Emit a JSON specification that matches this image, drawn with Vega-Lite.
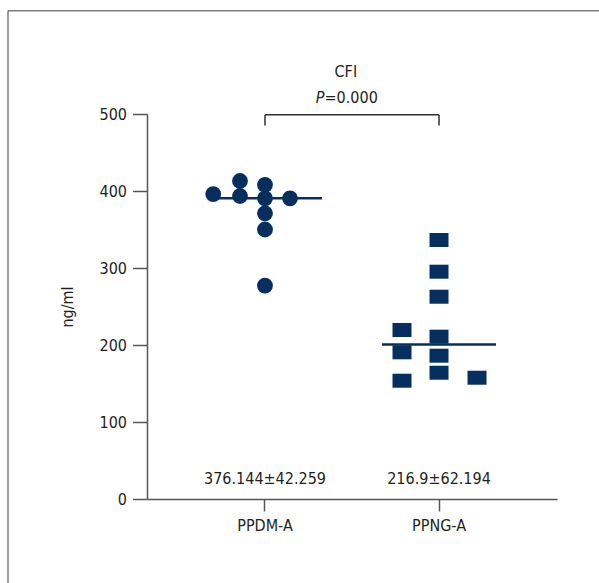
{
  "$schema": "https://vega.github.io/schema/vega-lite/v6.json",
  "width": 410,
  "height": 385,
  "autosize": {"type": "none"},
  "padding": {"left": 147, "top": 114, "right": 42, "bottom": 84},
  "background": "white",
  "config": {
    "view": {"stroke": null},
    "font": "Liberation Sans Narrow, DejaVu Sans Condensed, sans-serif",
    "text": {"font": "Liberation Sans Narrow, DejaVu Sans Condensed, sans-serif", "color": "#231f20"}
  },
  "datasets": {
    "points": [
      {"group": "PPDM-A", "jitter": -2.07, "value": 396},
      {"group": "PPDM-A", "jitter": -1, "value": 413},
      {"group": "PPDM-A", "jitter": -1, "value": 393.5},
      {"group": "PPDM-A", "jitter": 0, "value": 408},
      {"group": "PPDM-A", "jitter": 0, "value": 390.5},
      {"group": "PPDM-A", "jitter": 0, "value": 371},
      {"group": "PPDM-A", "jitter": 0, "value": 350},
      {"group": "PPDM-A", "jitter": 1, "value": 390.5},
      {"group": "PPDM-A", "jitter": 0, "value": 277},
      {"group": "PPNG-A", "jitter": 0, "value": 336.4},
      {"group": "PPNG-A", "jitter": 0, "value": 295.2},
      {"group": "PPNG-A", "jitter": 0, "value": 262.7},
      {"group": "PPNG-A", "jitter": -1.48, "value": 219.5},
      {"group": "PPNG-A", "jitter": 0, "value": 210.8},
      {"group": "PPNG-A", "jitter": -1.48, "value": 190.5},
      {"group": "PPNG-A", "jitter": 0, "value": 186.1},
      {"group": "PPNG-A", "jitter": 0, "value": 164},
      {"group": "PPNG-A", "jitter": -1.48, "value": 153.6},
      {"group": "PPNG-A", "jitter": 1.52, "value": 157.5}
    ],
    "stats": [
      {"group": "PPDM-A", "label": "376.144±42.259"},
      {"group": "PPNG-A", "label": "216.9±62.194"}
    ]
  },
  "encoding": {
    "y": {
      "type": "quantitative",
      "scale": {"domain": [0, 500], "nice": false, "zero": true},
      "axis": {
        "values": [0, 100, 200, 300, 400, 500],
        "grid": false,
        "title": "ng/ml",
        "titleFont": "Liberation Sans Narrow, DejaVu Sans Condensed, sans-serif",
        "titleFontSize": 16,
        "titleFontWeight": "normal",
        "titleColor": "#231f20",
        "titlePadding": 24,
        "labelFont": "Liberation Sans Narrow, DejaVu Sans Condensed, sans-serif",
        "labelFontSize": 16,
        "labelColor": "#231f20",
        "labelPadding": 6,
        "domainColor": "#555555",
        "domainWidth": 1.5,
        "tickColor": "#555555",
        "tickWidth": 1.5,
        "tickSize": 14.5
      }
    }
  },
  "layer": [
    {
      "layer": [
        {
          "data": {"name": "points"},
          "transform": [{"filter": "datum.group === 'PPDM-A'"}],
          "mark": {"type": "point", "filled": true, "shape": "circle", "size": 250, "opacity": 1, "color": "#062f5f"},
          "encoding": {
            "x": {
              "field": "group",
              "type": "nominal",
              "scale": {"type": "band", "domain": ["PPDM-A", "PPNG-A"], "paddingInner": 0.138, "paddingOuter": 0.247},
              "axis": {
                "title": null,
                "orient": "bottom",
                "labelAngle": 0,
                "labelFont": "Liberation Sans Narrow, DejaVu Sans Condensed, sans-serif",
                "labelFontSize": 16,
                "labelColor": "#231f20",
                "labelPadding": 6,
                "domainColor": "#555555",
                "domainWidth": 1.5,
                "tickColor": "#555555",
                "tickWidth": 1.5,
                "tickSize": 12
              }
            },
            "xOffset": {"field": "jitter", "type": "quantitative", "scale": {"domain": [-3, 3], "nice": false, "zero": false}},
            "y": {"field": "value"}
          }
        },
        {
          "data": {"name": "points"},
          "transform": [{"filter": "datum.group === 'PPNG-A'"}],
          "mark": {"type": "point", "filled": true, "shape": "M-1,-0.737H1V0.737H-1Z", "size": 361, "opacity": 1, "color": "#062f5f"},
          "encoding": {
            "x": {"field": "group", "type": "nominal"},
            "xOffset": {"field": "jitter", "type": "quantitative"},
            "y": {"field": "value"}
          }
        },
        {
          "data": {"name": "points"},
          "mark": {"type": "tick", "orient": "horizontal", "size": 114, "thickness": 2.6, "color": "#062f5f", "opacity": 1},
          "encoding": {
            "x": {"field": "group", "type": "nominal"},
            "y": {"field": "value", "aggregate": "median"}
          }
        },
        {
          "data": {"name": "stats"},
          "mark": {"type": "text", "fontSize": 16, "baseline": "alphabetic", "align": "center"},
          "encoding": {
            "x": {"field": "group", "type": "nominal"},
            "y": {"datum": 19.5},
            "text": {"field": "label"}
          }
        },
        {
          "data": {"name": "stats"},
          "mark": {"type": "rule", "color": "#333333", "strokeWidth": 1.5},
          "encoding": {
            "x": {"field": "group", "type": "nominal"},
            "y": {"datum": 485},
            "y2": {"datum": 499}
          }
        },
        {
          "data": {"values": [{}]},
          "mark": {"type": "rule", "color": "#333333", "strokeWidth": 1.5},
          "encoding": {
            "x": {"datum": "PPDM-A", "type": "nominal"},
            "x2": {"datum": "PPNG-A"},
            "y": {"datum": 499}
          }
        }
      ]
    },
    {
      "data": {"values": [{}]},
      "layer": [
        {
          "mark": {"type": "rule", "color": "#3a3a3a", "strokeWidth": 1, "clip": false},
          "encoding": {
            "x": {"datum": -0.339, "type": "quantitative", "scale": {"domain": [0, 1], "nice": false, "zero": false}, "axis": null},
            "y": {"datum": 634},
            "y2": {"datum": -140}
          }
        },
        {
          "mark": {"type": "rule", "color": "#3a3a3a", "strokeWidth": 1, "clip": false},
          "encoding": {
            "x": {"datum": -0.339, "type": "quantitative"},
            "x2": {"datum": 1.2},
            "y": {"datum": 634}
          }
        },
        {
          "mark": {"type": "text", "fontSize": 16, "baseline": "alphabetic", "align": "center"},
          "encoding": {
            "x": {"datum": 0.485, "type": "quantitative"},
            "y": {"datum": 548.4},
            "text": {"value": "CFI"}
          }
        },
        {
          "mark": {"type": "text", "fontSize": 16, "baseline": "alphabetic", "align": "right", "fontStyle": "italic"},
          "encoding": {
            "x": {"datum": 0.433, "type": "quantitative"},
            "y": {"datum": 513.9},
            "text": {"value": "P"}
          }
        },
        {
          "mark": {"type": "text", "fontSize": 16, "baseline": "alphabetic", "align": "left"},
          "encoding": {
            "x": {"datum": 0.433, "type": "quantitative"},
            "y": {"datum": 513.9},
            "text": {"value": "=0.000"}
          }
        }
      ]
    }
  ],
  "resolve": {"scale": {"x": "independent"}, "axis": {"x": "independent"}}
}
